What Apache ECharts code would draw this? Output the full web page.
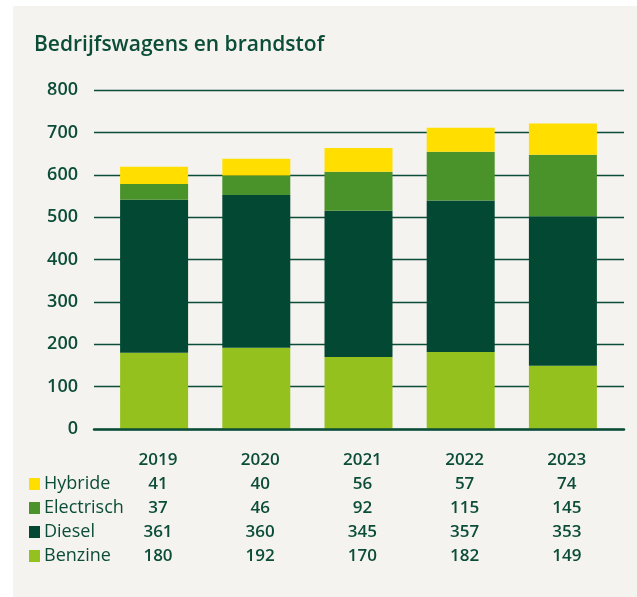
<!DOCTYPE html>
<html>
<head>
<meta charset="utf-8">
<script src="https://cdn.jsdelivr.net/npm/echarts@6/dist/echarts.min.js"></script>
<style>
html,body{margin:0;padding:0;background:#ffffff;}
#chart{width:637px;height:597px;}
</style>
</head>
<body>
<div id="chart"></div>
<script>
var years = ['2019', '2020', '2021', '2022', '2023'];
var seriesNames = ['Hybride', 'Electrisch', 'Diesel', 'Benzine'];
var hybride = [41, 40, 56, 57, 74];
var electrisch = [37, 46, 92, 115, 145];
var diesel = [361, 360, 345, 357, 353];
var benzine = [180, 192, 170, 182, 149];
var yTicks = [0, 100, 200, 300, 400, 500, 600, 700, 800];

var colors = {Hybride: '#FFDE00', Electrisch: '#4A922A', Diesel: '#024833', Benzine: '#95C11F'};
var textColor = '#0B4D38';
var font = '"Open Sans"';

var chart = echarts.init(document.getElementById('chart'), null, {renderer: 'canvas'});

var valuesByName = {Hybride: hybride, Electrisch: electrisch, Diesel: diesel, Benzine: benzine};
var stackOrder = ['Benzine', 'Diesel', 'Electrisch', 'Hybride'];

var graphics = [];
graphics.push({type: 'rect', shape: {x: 13, y: 6, width: 640, height: 600}, style: {fill: '#F5F3EF'}, z: -10, silent: true});
graphics.push({type: 'text', x: 34, y: 45, style: {text: 'Bedrijfswagens en brandstof', fill: textColor, font: '600 21px ' + font, textVerticalAlign: 'middle'}});

var colX0 = 158, colStep = 102.2;
years.forEach(function (y, i) {
  graphics.push({type: 'text', x: colX0 + i * colStep, y: 460, style: {text: y, fill: textColor, font: '600 17px ' + font, textAlign: 'center', textVerticalAlign: 'middle'}});
});
seriesNames.forEach(function (n, r) {
  var yy = 484 + r * 24;
  graphics.push({type: 'rect', shape: {x: 29, y: yy - 6, width: 11, height: 12}, style: {fill: colors[n]}});
  graphics.push({type: 'text', x: 44, y: yy, style: {text: n, fill: textColor, font: '400 18px ' + font, textVerticalAlign: 'middle'}});
  valuesByName[n].forEach(function (v, i) {
    graphics.push({type: 'text', x: colX0 + i * colStep, y: yy, style: {text: String(v), fill: textColor, font: '600 17px ' + font, textAlign: 'center', textVerticalAlign: 'middle'}});
  });
});

var option = {
  animation: false,
  grid: [
    {left: 94, right: 13, top: 90, bottom: 168},
    {left: 103, right: 23, top: 90, bottom: 168}
  ],
  xAxis: [
    {gridIndex: 0, type: 'category', data: years, axisLine: {show: true, lineStyle: {color: textColor, width: 2.5}}, axisTick: {show: false}, axisLabel: {show: false}, z: 5},
    {gridIndex: 1, type: 'category', data: years, axisLine: {show: false}, axisTick: {show: false}, axisLabel: {show: false}}
  ],
  yAxis: [
    {gridIndex: 0, type: 'value', min: yTicks[0], max: yTicks[yTicks.length - 1], interval: 100,
      axisLine: {show: false}, axisTick: {show: false},
      axisLabel: {color: textColor, fontSize: 18, fontFamily: 'Open Sans', fontWeight: 600, margin: 16},
      splitLine: {lineStyle: {color: textColor, width: 1.3}}},
    {gridIndex: 1, type: 'value', min: yTicks[0], max: yTicks[yTicks.length - 1], interval: 100,
      axisLine: {show: false}, axisTick: {show: false}, axisLabel: {show: false}, splitLine: {show: false}}
  ],
  series: stackOrder.map(function (n) {
    return {name: n, type: 'bar', stack: 'total', xAxisIndex: 1, yAxisIndex: 1, barWidth: 68,
      data: valuesByName[n], itemStyle: {color: colors[n]}, z: 3};
  }),
  graphic: graphics
};
chart.setOption(option);
</script>
</body>
</html>
